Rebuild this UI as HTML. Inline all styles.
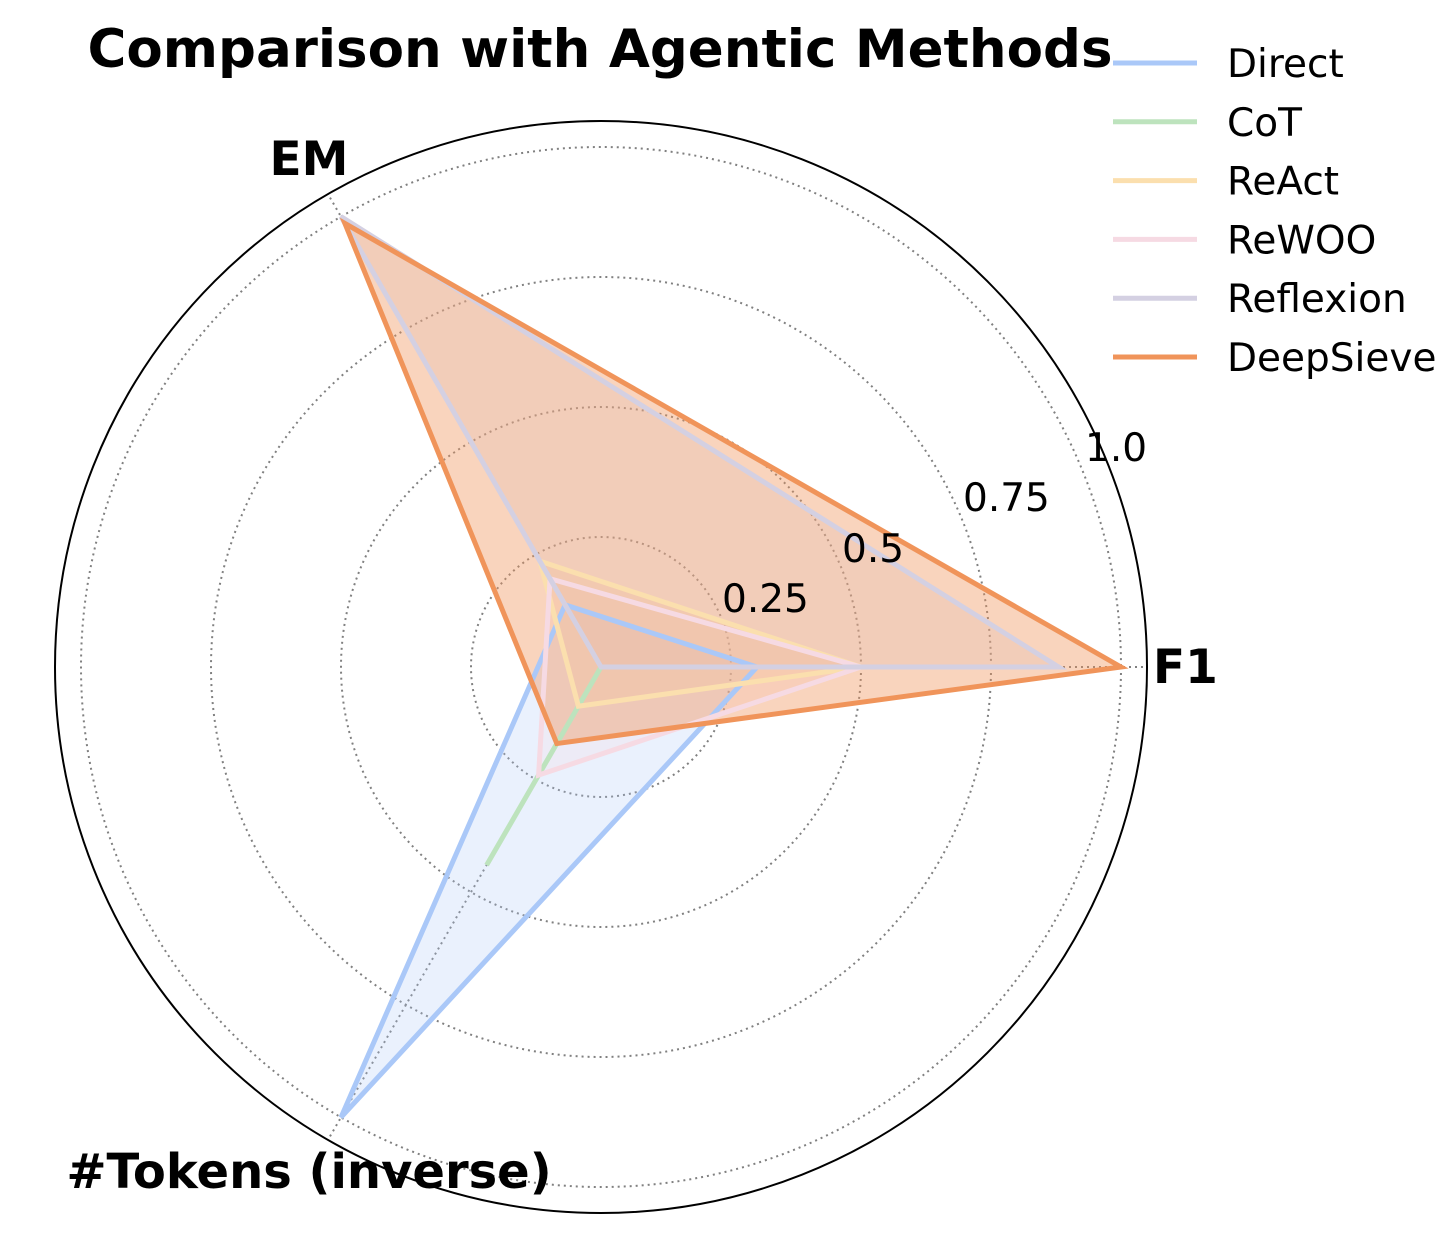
<!DOCTYPE html>
<html><head><meta charset="utf-8"><style>
html,body{margin:0;padding:0;background:#fff;}
svg{display:block;font-family:"DejaVu Sans","Liberation Sans",sans-serif;}
</style></head><body>
<svg id="chart" width="1442" height="1234" viewBox="0 0 1442 1234">
<g id="grid"></g>
<g id="fills"></g>
<g id="series"></g>
<g id="labels"></g>
<text x="600" y="67" text-anchor="middle" font-size="53" font-weight="bold">Comparison with Agentic Methods</text>
<g id="legend"></g>
</svg>
<script>
const axes = ["F1", "EM", "#Tokens (inverse)"];
const seriesNames = ["Direct", "CoT", "ReAct", "ReWOO", "Reflexion", "DeepSieve"];
const directVals = [0.30, 0.138, 1.0];
const cotVals = [0.0, 0.0, 0.44];
const reactVals = [0.50, 0.235, 0.087];
const rewooVals = [0.50, 0.196, 0.24];
const reflexionVals = [0.88, 1.0, 0.0];
const deepsieveVals = [1.0, 0.985, 0.17];
const tickVals = [0.25, 0.5, 0.75, 1.0];
const tickLabels = ["0.25", "0.5", "0.75", "1.0"];
const rMax = 1.05;

const colors = ["#aac8f8","#bde3bd","#fbdfae","#f6dae3","#d4d0e2","#f0945a"];
const fillOp = [0.25, 0.25, 0.25, 0.25, 0.25, 0.4];
const allVals = [directVals, cotVals, reactVals, rewooVals, reflexionVals, deepsieveVals];
const NS = "http://www.w3.org/2000/svg";
const cx = 601, cy = 667, R = 546;
const rs = v => v / rMax * R;
const ang = i => i * 2 * Math.PI / axes.length;
const pt = (i, v) => [cx + rs(v) * Math.cos(ang(i)), cy - rs(v) * Math.sin(ang(i))];
function mk(tag, attrs, parent){const e=document.createElementNS(NS,tag);for(const k in attrs)e.setAttribute(k,attrs[k]);parent.appendChild(e);return e;}

const grid = document.getElementById("grid");
tickVals.forEach((t, i) => {
  const c = mk("circle",{cx:cx,cy:cy,r:rs(t),fill:"none",stroke:"#808080","stroke-width":2,"stroke-dasharray":"2,4"},grid);
  
  
});
axes.forEach((a, i) => {
  const p = pt(i, rMax);
  const l = mk("line",{x1:cx,y1:cy,x2:p[0],y2:p[1],stroke:"#808080","stroke-width":2,"stroke-dasharray":"2,4"},grid);
  
  
});
const outer = mk("circle",{cx:cx,cy:cy,r:R,fill:"none",stroke:"#000","stroke-width":2},grid);



const fg = document.getElementById("fills");
const sg = document.getElementById("series");
allVals.forEach((vals, s) => {
  const pts = vals.map((v, i) => pt(i, v).join(",")).join(" ");
  const f = mk("polygon",{points:pts,fill:colors[s],"fill-opacity":fillOp[s],stroke:"none"},fg);
  
  
  const poly = mk("polygon",{points:pts,fill:"none",stroke:colors[s],"stroke-width":5,"stroke-linejoin":"miter"},sg);
  
  
});

const lg = document.getElementById("labels");
const tickPos = [[722,612],[842,562],[963,511],[1085,461]];
tickLabels.forEach((t, i) => {
  const tx = mk("text",{x:tickPos[i][0],y:tickPos[i][1],"font-size":39},lg);
  tx.textContent = t;
  
  
});
const axPos = [[1153,683,"start"],[309,175,"middle"],[309,1188,"middle"]];
const axSize = [47, 47, 48];
axes.forEach((a, i) => {
  const tx = mk("text",{x:axPos[i][0],y:axPos[i][1],"text-anchor":axPos[i][2],"font-size":axSize[i],"font-weight":"bold"},lg);
  tx.textContent = a;
  
  
});

const leg = document.getElementById("legend");
seriesNames.forEach((n, i) => {
  const y = 63 + i * 58.8;
  const g = mk("g",{},leg);
  
  
  mk("line",{x1:1113,y1:y,x2:1197,y2:y,stroke:colors[i],"stroke-width":5},g);
  const tx = mk("text",{x:1227,y:y+14,"font-size":39},g);
  tx.textContent = n;
});
</script>
</body></html>
